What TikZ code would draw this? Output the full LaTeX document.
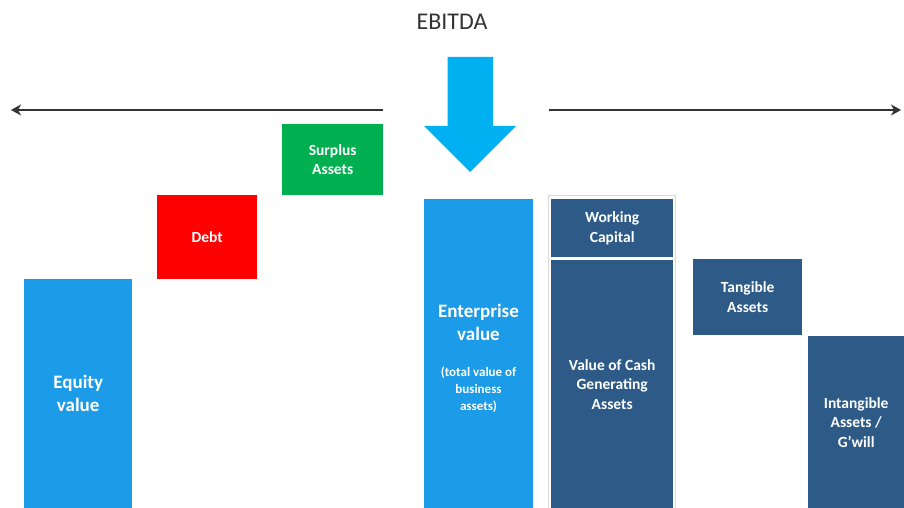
\documentclass[tikz,border=0pt]{standalone}
\usepackage{fontspec}
\setmainfont{Carlito}
\usetikzlibrary{arrows.meta}
\definecolor{lblue}{HTML}{1B9BE8}
\definecolor{cyanarrow}{HTML}{00B0F0}
\definecolor{dblue}{HTML}{2E5A88}
\definecolor{sred}{HTML}{FF0000}
\definecolor{sgreen}{HTML}{00B050}
\definecolor{lgray}{HTML}{D9D9D9}
\definecolor{arrowgray}{HTML}{333333}
\tikzset{
  blockbox/.style={anchor=north west, inner sep=0pt, align=center, text=white,
    font=\bfseries\fontsize{15.5}{19.5}\selectfont},
  bigtext/.style={font=\bfseries\fontsize{19}{23}\selectfont},
  smalltext/.style={font=\bfseries\fontsize{13}{17}\selectfont},
  wtext/.style={text=white, align=center, inner sep=0pt, anchor=center},
  hline/.style={draw=arrowgray, line width=2pt, -{Stealth[length=10pt,width=11pt,inset=3pt]}},
}
\begin{document}
\begin{tikzpicture}[x=1pt,y=-1pt]
\useasboundingbox (0,0) rectangle (904,508);
% title
\node[font=\fontsize{24}{28}\selectfont, text=black!80, anchor=center] (ebitda) at (452,22) {EBITDA};
% big down arrow
\fill[cyanarrow] (447.5,57) -- (493,57) -- (493,126) -- (516,126) -- (470,172) -- (424,126) -- (447.5,126) -- cycle;
% horizontal arrows
\coordinate (lstart) at (383,110);
\coordinate (lend) at (11,110);
\coordinate (rstart) at (549,110);
\coordinate (rend) at (901,110);
\draw[hline] (lstart) -- (lend);
\draw[hline] (rstart) -- (rend);
% group border
\node[draw=lgray, line width=1pt, anchor=north west, minimum width=127pt, minimum height=314pt, inner sep=0pt] (group) at (548,195) {};
% boxes
\node[blockbox, fill=lblue, minimum width=108pt, minimum height=229pt, bigtext] (equity) at (24,279) {Equity\\value};
\node[blockbox, fill=sred, minimum width=100pt, minimum height=84pt] (debt) at (157,195) {Debt};
\node[blockbox, fill=sgreen, minimum width=101pt, minimum height=71pt] (surplus) at (282,124) {Surplus\\Assets};
\node[blockbox, fill=lblue, minimum width=109pt, minimum height=309pt] (ev) at (424,199) {};
\node[wtext, bigtext] (evtitle) at (478.5,322) {Enterprise\\value};
\node[wtext, smalltext] (evsub) at (478.5,390) {(total value of\\business\\assets)};
\node[blockbox, fill=dblue, minimum width=122pt, minimum height=58pt] (wc) at (551,199) {Working\\Capital};
\node[blockbox, fill=dblue, minimum width=122pt, minimum height=248pt] (vcga) at (551,260) {Value of Cash\\Generating\\Assets};
\node[blockbox, fill=dblue, minimum width=109pt, minimum height=76pt] (tang) at (693,259) {Tangible\\Assets};
\node[blockbox, fill=dblue, minimum width=96pt, minimum height=172pt] (intang) at (808,336) {Intangible\\Assets /\\G’will};
\end{tikzpicture}
\end{document}
